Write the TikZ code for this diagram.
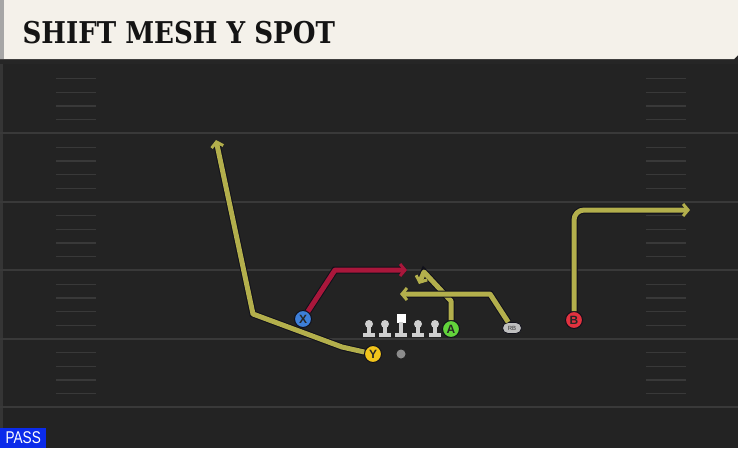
\documentclass[tikz,border=0pt]{standalone}
\usepackage{fontspec}
\setsansfont{Liberation Sans}
\newfontfamily\titlefont{DejaVu Serif}[FakeStretch=0.87]
\newfontfamily\passfont{Liberation Sans}[FakeStretch=0.8]
\usetikzlibrary{arrows.meta,positioning,calc,shapes.misc}
\definecolor{fieldbg}{HTML}{232323}
\definecolor{yardline}{HTML}{393939}
\definecolor{headbg}{HTML}{F4F1EA}
\definecolor{routeyel}{HTML}{B3AF4C}
\definecolor{routered}{HTML}{A9173B}
\definecolor{edgecol}{HTML}{10101A}
\definecolor{xblue}{HTML}{3D7FD9}
\definecolor{yyel}{HTML}{F2C41B}
\definecolor{agreen}{HTML}{62D33B}
\definecolor{bred}{HTML}{E2323F}
\definecolor{passblue}{HTML}{0B2BEA}
\definecolor{olgray}{HTML}{CFCFCF}
\tikzstyle{route} = [draw=routeyel, line width=5pt, line join=round, preaction={draw=edgecol, line width=7pt}]
\tikzstyle{player} = [circle, draw=edgecol, line width=1pt, minimum size=17pt, inner sep=0pt, font=\sffamily\bfseries\fontsize{12}{12}\selectfont, text=black!85]
\tikzstyle{hash} = [draw=yardline, line width=1.3pt]
\tikzset{>={Straight Barb[length=5pt,width=12pt,line width=3pt]}}
\tikzset{oline/.pic={
    \fill[olgray] (0,0) circle (4);
    \fill[olgray] (-2.2,1) rectangle (2.2,9);
    \fill[olgray] (-6,8.5) rectangle (6,13);
  },
  snapper/.pic={
    \fill[white] (-4.5,-10) rectangle (4.5,-1.5);
    \fill[olgray] (-2.2,-2) rectangle (2.2,9);
    \fill[olgray] (-6,8.5) rectangle (6,13);
  }}
\begin{document}
\begin{tikzpicture}[x=1pt,y=-1pt]
  \useasboundingbox (0,0) rectangle (738,448);
  \fill[fieldbg] (0,0) rectangle (738,448);
  \fill[white!8!fieldbg] (0,59) rectangle (3,428);
  \foreach \yl in {133,201.5,270,338.5,407}
    \draw[yardline, line width=2pt] (0,\yl) -- (738,\yl);
  \foreach \i in {0,...,4}
    \foreach \k in {1,...,4} {
      \draw[hash] (56,65+68.5*\i+13.7*\k) -- (96,65+68.5*\i+13.7*\k);
      \draw[hash] (646,65+68.5*\i+13.7*\k) -- (686,65+68.5*\i+13.7*\k);
    }
  \fill[black!85] (0,59) rectangle (738,64);
  \fill[headbg] (0,0) -- (738,0) -- (738,55) -- (734,59) -- (0,59) -- cycle;
  \fill[black!35] (0,0) rectangle (4,59);
  \node[anchor=base west, text=black!92, font=\titlefont\bfseries\fontsize{30}{30}\selectfont] (title) at (19,43) {SHIFT MESH Y SPOT};

  \pic at (369,324) {oline};
  \pic at (385,324) {oline};
  \pic at (401,324) {snapper};
  \pic at (418,324) {oline};
  \pic at (435,324) {oline};
  \node[circle, fill=black!45, minimum size=9pt, inner sep=0pt] (ball) at (401,354) {};

  \node[player, fill=xblue] (pX) at (303,319) {X};
  \node[player, fill=yyel] (pY) at (373,354) {Y};
  \node[player, fill=agreen] (pA) at (451,329) {A};
  \node[player, fill=bred] (pB) at (574,320) {B};
  \node[rounded rectangle, fill=black!25, draw=edgecol, line width=0.8pt, minimum width=19pt, minimum height=11pt, inner sep=0pt, font=\sffamily\fontsize{6}{6}\selectfont, text=black!80] (pRB) at (512,328) {RB};

  \coordinate (y1) at (342,347);
  \coordinate (y2) at (253,314);
  \coordinate (y3) at (216,140);
  \coordinate (x1) at (335,270);
  \coordinate (x2) at (407,270);
  \coordinate (a1) at (451,301);
  \coordinate (a2) at (424,272);
  \coordinate (a3) at (419,284);
  \coordinate (r1) at (490,294);
  \coordinate (r2) at (400,294);
  \coordinate (b1) at (574,210);
  \coordinate (b2) at (690,210);

  \draw[route,->] (pY) -- (y1) -- (y2) -- (y3);
  \draw[route,draw=routered,->] (pX) -- (x1) -- (x2);
  \draw[route,->] (pA) -- (a1) -- (a2) -- (a3);
  \draw[route,->] (pRB) -- (r1) -- (r2);
  \draw[route,->,rounded corners=10pt] (pB) -- (b1) -- (b2);

  \node[fill=passblue, text=white, anchor=south west, minimum width=46pt, minimum height=20pt, inner sep=0pt, font=\passfont\fontsize{17}{17}\selectfont] (pass) at (0,448) {PASS};
\end{tikzpicture}
\end{document}
